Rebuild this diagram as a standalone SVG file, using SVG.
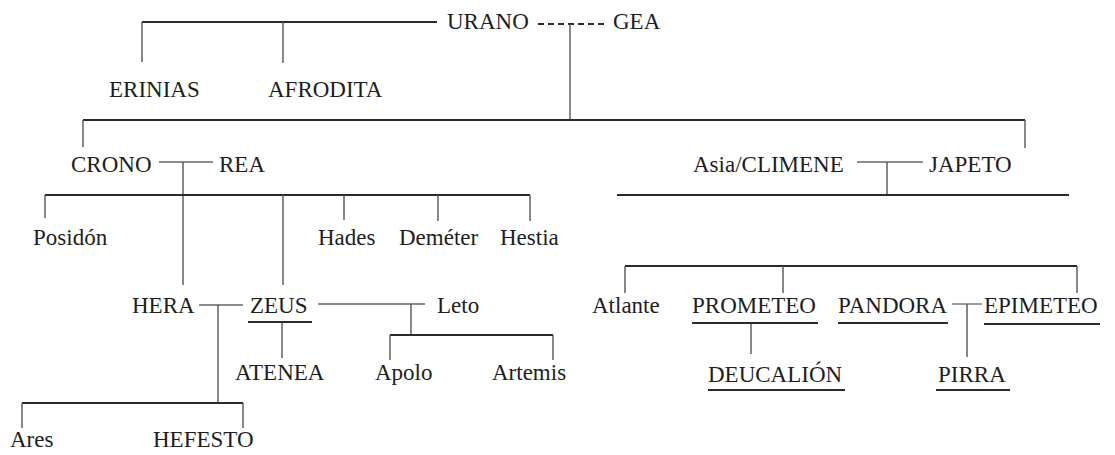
<svg xmlns="http://www.w3.org/2000/svg" width="1115" height="455" viewBox="0 0 1115 455">
<style>
text{font-family:"Liberation Serif","Times New Roman",serif;font-size:23px;fill:#1e1e1e}
.h{stroke:#2a2a2a;stroke-width:2.2;fill:none}
.v{stroke:#555;stroke-width:1.4;fill:none}
.s{stroke:#666;stroke-width:1.3;fill:none}
.u{stroke:#2a2a2a;stroke-width:2.2;fill:none}
.d{stroke:#2a2a2a;stroke-width:2;stroke-dasharray:6,4;fill:none}
</style>
<rect width="1115" height="455" fill="#fff"/>
<g id="connectors">
<path class="h" d="M142,22 H437"/>
<path class="v" d="M142,22 V62 M283,22 V63"/>
<path class="d" d="M538,24 H605"/>
<path class="v" d="M570,24 V120"/>
<path class="h" d="M83,120 H1025"/>
<path class="v" d="M83,120 V147 M1025,120 V148"/>
<path class="s" d="M159,162 H213"/>
<path class="v" d="M183,162 V285"/>
<path class="h" d="M45,195 H530"/>
<path class="v" d="M45,195 V218 M344,195 V220 M438,195 V221 M530,195 V221 M283,195 V285"/>
<path class="s" d="M857,162 H923"/>
<path class="v" d="M887,162 V195"/>
<path class="h" d="M617,195 H1069"/>
<path class="h" d="M625,266 H1077"/>
<path class="v" d="M625,266 V293 M783,266 V293 M1077,266 V293"/>
<path class="s" d="M199,305 H243"/>
<path class="v" d="M218,305 V403"/>
<path class="h" d="M22,403 H243"/>
<path class="v" d="M22,403 V428 M243,403 V428"/>
<path class="s" d="M318,304 H425"/>
<path class="v" d="M411,304 V335"/>
<path class="h" d="M390,335 H553"/>
<path class="v" d="M390,335 V360 M553,335 V360"/>
<path class="v" d="M282,322 V358"/>
<path class="v" d="M751,323 V354"/>
<path class="s" d="M952,304 H982"/>
<path class="v" d="M967,304 V357"/>
</g>
<g id="urano"><text x="447" y="29">URANO</text></g>
<g id="gea"><text x="613" y="29">GEA</text></g>
<g id="erinias"><text x="109" y="97">ERINIAS</text></g>
<g id="afrodita"><text x="268" y="97">AFRODITA</text></g>
<g id="crono"><text x="71" y="172">CRONO</text></g>
<g id="rea"><text x="219" y="172">REA</text></g>
<g id="climene"><text x="693" y="172">Asia/CLIMENE</text></g>
<g id="japeto"><text x="929" y="172">JAPETO</text></g>
<g id="posidon"><text x="33" y="245">Posidón</text></g>
<g id="hades"><text x="318" y="245">Hades</text></g>
<g id="demeter"><text x="399" y="245">Deméter</text></g>
<g id="hestia"><text x="500" y="245">Hestia</text></g>
<g id="hera"><text x="132" y="313">HERA</text></g>
<g id="zeus"><text x="250" y="313">ZEUS</text><path class="u" d="M248,322 H312"/></g>
<g id="leto"><text x="437" y="313">Leto</text></g>
<g id="atenea"><text x="235" y="380">ATENEA</text></g>
<g id="apolo"><text x="375" y="380">Apolo</text></g>
<g id="artemis"><text x="492" y="380">Artemis</text></g>
<g id="ares"><text x="10" y="447">Ares</text></g>
<g id="hefesto"><text x="153" y="447">HEFESTO</text></g>
<g id="atlante"><text x="592" y="313">Atlante</text></g>
<g id="prometeo"><text x="692" y="313">PROMETEO</text><path class="u" d="M692,323 H818"/></g>
<g id="pandora"><text x="838" y="313">PANDORA</text><path class="u" d="M838,323 H948"/></g>
<g id="epimeteo"><text x="984" y="313">EPIMETEO</text><path class="u" d="M984,324 H1100"/></g>
<g id="deucalion"><text x="708" y="382">DEUCALIÓN</text><path class="u" d="M708,390 H845"/></g>
<g id="pirra"><text x="938" y="382">PIRRA</text><path class="u" d="M936,390 H1010"/></g>
</svg>
